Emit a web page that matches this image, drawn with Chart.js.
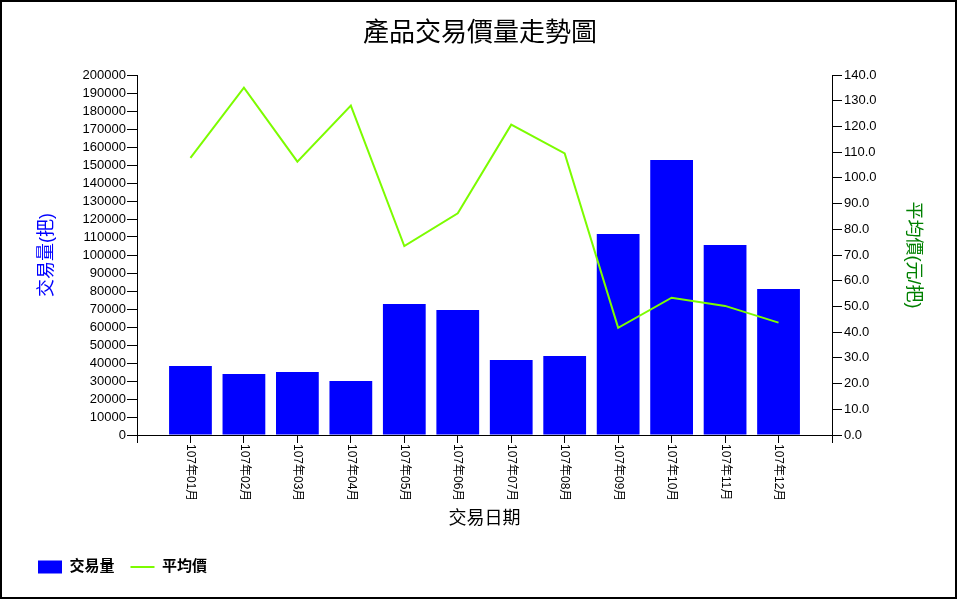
<!DOCTYPE html>
<html>
<head>
<meta charset="utf-8">
<script src="https://cdn.jsdelivr.net/npm/chart.js@4.4.0/dist/chart.umd.min.js"></script>
<style>
  body { margin: 0; background: #fff; }
</style>
</head>
<body>
<canvas id="priceVolume" width="960" height="600"></canvas>
<script>
var months = ['107年01月', '107年02月', '107年03月', '107年04月', '107年05月', '107年06月',
              '107年07月', '107年08月', '107年09月', '107年10月', '107年11月', '107年12月'];
var volumes = [38300, 33900, 35000, 30000, 72800, 69400, 41700, 43900, 111700, 152800, 105600, 81100];
var prices = [107.8, 135.1, 106.3, 128.1, 73.5, 86.2, 120.7, 109.5, 41.7, 53.4, 50.2, 43.7];

// one empty slot on each side so the months sit inside the axis
var labels = [''].concat(months, ['']);
var volData = [null].concat(volumes, [null]);
var priceData = [null].concat(prices, [null]);

var cjk = 'Arial, "Liberation Sans", "Noto Sans CJK TC"';

// white background + frame
var framePlugin = {
    id: 'frame',
    beforeDraw: function(chart) {
        var ctx = chart.ctx;
        ctx.save();
        ctx.fillStyle = '#fff';
        ctx.fillRect(0, 0, chart.width, chart.height);
        ctx.restore();
    },
    afterDraw: function(chart) {
        var ctx = chart.ctx;
        ctx.save();
        ctx.strokeStyle = '#000';
        ctx.lineWidth = 2;
        ctx.strokeRect(1, 1, chart.width - 5, chart.height - 3);
        ctx.restore();
    }
};

// month labels turned clockwise (read top to bottom)
var monthLabels = {
    id: 'monthLabels',
    afterDraw: function(chart) {
        var x = chart.scales.x;
        var ctx = chart.ctx;
        ctx.save();
        ctx.font = '12px ' + cjk;
        ctx.fillStyle = '#000';
        ctx.textAlign = 'left';
        ctx.textBaseline = 'middle';
        for (var i = 0; i < months.length; i++) {
            ctx.save();
            ctx.translate(x.getPixelForValue(i + 1), x.top + 9);
            ctx.rotate(Math.PI / 2);
            ctx.fillText(months[i], 0, 0);
            ctx.restore();
        }
        ctx.restore();
    }
};

var ctx = document.getElementById('priceVolume');

var chart = new Chart(ctx, {
    type: 'bar',
    data: {
        labels: labels,
        datasets: [{
            type: 'bar',
            label: '交易量',
            data: volData,
            backgroundColor: '#0000ff',
            borderWidth: 0,
            pointStyle: 'rect',
            yAxisID: 'y',
            order: 1,
            categoryPercentage: 1,
            barPercentage: 0.8
        }, {
            type: 'line',
            label: '平均價',
            data: priceData,
            borderColor: '#7cfc00',
            backgroundColor: '#7cfc00',
            borderWidth: 2,
            pointRadius: 0,
            pointStyle: 'line',
            tension: 0,
            yAxisID: 'y1',
            order: 0
        }]
    },
    options: {
        responsive: false,
        animation: false,
        layout: {
            padding: { left: 22, right: 22, top: 0, bottom: 15.5 }
        },
        scales: {
            x: {
                offset: false,
                grid: { display: true, offset: false, drawOnChartArea: false, drawTicks: true, tickLength: 8, color: '#000' },
                border: { display: true, color: '#000', width: 1 },
                ticks: { display: false },
                title: {
                    display: true,
                    text: '交易日期',
                    color: '#000',
                    font: { family: cjk, size: 18 },
                    padding: { top: 0, bottom: 14 }
                },
                afterFit: function(scale) { scale.height = 108.5; }
            },
            y: {
                position: 'left',
                min: 0,
                max: 200000,
                grid: { display: true, drawOnChartArea: false, drawTicks: true, tickLength: 10, color: '#000' },
                border: { display: true, color: '#000', width: 1 },
                ticks: {
                    stepSize: 10000,
                    autoSkip: false,
                    padding: 1,
                    color: '#000',
                    font: { family: cjk, size: 13 },
                    callback: function(v) { return String(v); }
                },
                title: {
                    display: true,
                    text: '交易量(把)',
                    color: '#0000ff',
                    font: { family: cjk, size: 18 },
                    padding: { top: 14, bottom: 0 }
                },
                afterFit: function(scale) { scale.width = 115; }
            },
            y1: {
                position: 'right',
                min: 0,
                max: 140,
                grid: { display: true, drawOnChartArea: false, drawTicks: true, tickLength: 10, color: '#000' },
                border: { display: true, color: '#000', width: 1 },
                ticks: {
                    stepSize: 10,
                    autoSkip: false,
                    padding: 2,
                    color: '#000',
                    font: { family: cjk, size: 13 },
                    callback: function(v) { return Number(v).toFixed(1); }
                },
                title: {
                    display: true,
                    text: '平均價(元/把)',
                    color: '#008000',
                    font: { family: cjk, size: 18 },
                    padding: { top: 14, bottom: 0 }
                },
                afterFit: function(scale) { scale.width = 106; }
            }
        },
        plugins: {
            title: {
                display: true,
                text: '產品交易價量走勢圖',
                color: '#000',
                font: { family: cjk, size: 26, weight: 'normal' },
                padding: { top: 18, bottom: 25.8 }
            },
            legend: {
                display: true,
                position: 'bottom',
                align: 'start',
                labels: {
                    usePointStyle: true,
                    pointStyleWidth: 24,
                    boxHeight: 13,
                    padding: 16,
                    color: '#000',
                    font: { family: cjk, size: 15, weight: 'bold' },
                    sort: function(a, b) { return a.datasetIndex - b.datasetIndex; }
                }
            },
            tooltip: { enabled: false }
        }
    },
    plugins: [framePlugin, monthLabels]
});
</script>
</body>
</html>
